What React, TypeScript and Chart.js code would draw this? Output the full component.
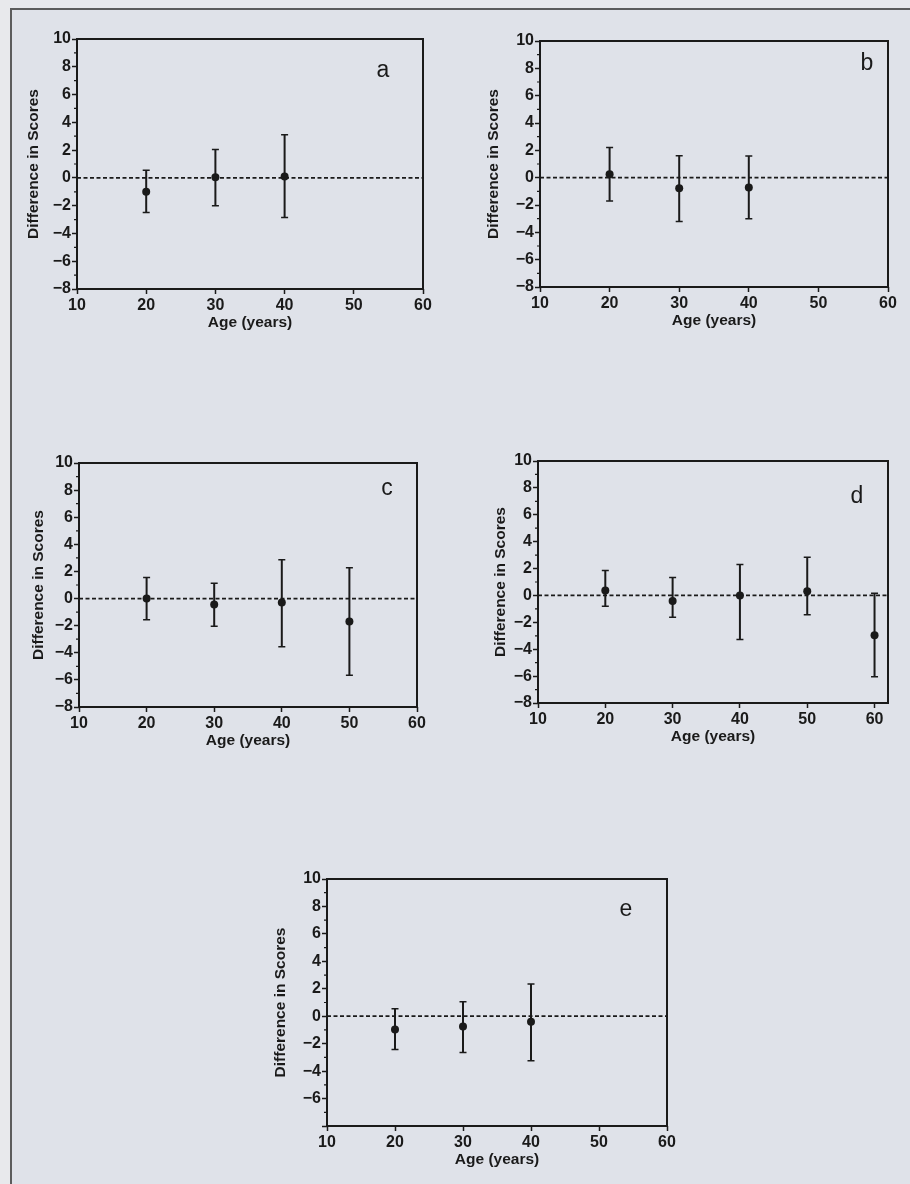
import React, { useEffect, useRef } from "react";
import { Chart, registerables } from "chart.js";

Chart.register(...registerables);
Chart.defaults.font.family = '"Liberation Sans", Arial, Helvetica, sans-serif';

// ---------- shared text ----------
const xAxisTitle = "Age (years)";
const yAxisTitle = "Difference in Scores";
const ageTickStep = 10;
const scoreTickStep = 2;

// ---------- panel a ----------
const aAges = [20, 30, 40];
const aMeans = [-1.0, 0.05, 0.1];
const aLower = [-2.5, -2.0, -2.85];
const aUpper = [0.55, 2.05, 3.1];

// ---------- panel b ----------
const bAges = [20, 30, 40];
const bMeans = [0.25, -0.78, -0.72];
const bLower = [-1.7, -3.2, -3.0];
const bUpper = [2.2, 1.6, 1.58];

// ---------- panel c ----------
const cAges = [20, 30, 40, 50];
const cMeans = [0.0, -0.44, -0.3, -1.7];
const cLower = [-1.57, -2.04, -3.56, -5.65];
const cUpper = [1.55, 1.13, 2.87, 2.28];

// ---------- panel d ----------
const dAges = [20, 30, 40, 50, 60];
const dMeans = [0.37, -0.42, 0.0, 0.32, -2.97];
const dLower = [-0.8, -1.63, -3.27, -1.44, -6.04];
const dUpper = [1.86, 1.34, 2.3, 2.85, 0.17];

// ---------- panel e ----------
const eAges = [20, 30, 40];
const eMeans = [-0.96, -0.74, -0.4];
const eLower = [-2.43, -2.65, -3.24];
const eUpper = [0.54, 1.06, 2.35];

const INK = "#1a1a1a";
const Y_W = 66;
const PAD_T = 12;
const PAD_R = 20;
const X_H = 46;

type Layout = {
  left: number;
  top: number;
  right: number;
  bottom: number;
  titleGap: number;
  letterX: number;
  letterBase: number;
  xMin: number;
  xMax: number;
  yMin: number;
  yMax: number;
  hideMinLabel: boolean;
};

type PanelProps = {
  ages: number[];
  means: number[];
  lower: number[];
  upper: number[];
  letter: string;
  layout: Layout;
};

function ErrorBarPanel({ ages, means, lower, upper, letter, layout }: PanelProps) {
  const ref = useRef<HTMLCanvasElement>(null);
  const plotW = layout.right - layout.left;
  const plotH = layout.bottom - layout.top;
  const cw = Y_W + plotW + PAD_R;
  const ch = PAD_T + plotH + X_H;
  const cl = layout.left - Y_W;
  const ct = layout.top - PAD_T;

  useEffect(() => {
    if (!ref.current) return;
    const plugin = {
      id: "errbars",
      beforeDatasetsDraw(chart: any) {
        const { ctx, chartArea: a, scales } = chart;
        const x = scales.x;
        const y = scales.y;
        ctx.save();
        const y0 = y.getPixelForValue(0);
        ctx.strokeStyle = INK;
        ctx.lineWidth = 1.8;
        ctx.setLineDash([4, 2.5]);
        ctx.beginPath();
        ctx.moveTo(a.left, y0);
        ctx.lineTo(a.right, y0);
        ctx.stroke();
        ctx.setLineDash([]);
        ages.forEach((age, i) => {
          const px = x.getPixelForValue(age);
          const pu = y.getPixelForValue(upper[i]);
          const pl = y.getPixelForValue(lower[i]);
          ctx.lineWidth = 2;
          ctx.beginPath();
          ctx.moveTo(px, pu);
          ctx.lineTo(px, pl);
          ctx.stroke();
          ctx.lineWidth = 1.5;
          ctx.beginPath();
          ctx.moveTo(px - 3.5, pu);
          ctx.lineTo(px + 3.5, pu);
          ctx.moveTo(px - 3.5, pl);
          ctx.lineTo(px + 3.5, pl);
          ctx.stroke();
        });
        ctx.restore();
      },
      afterDraw(chart: any) {
        const { ctx, chartArea: a, scales } = chart;
        const y = scales.y;
        ctx.save();
        ctx.strokeStyle = INK;
        ctx.lineWidth = 2;
        ctx.strokeRect(a.left, a.top, a.right - a.left, a.bottom - a.top);
        ctx.lineWidth = 1.2;
        ctx.beginPath();
        for (let v = layout.yMin + 1; v < layout.yMax; v += scoreTickStep) {
          const py = y.getPixelForValue(v);
          ctx.moveTo(a.left - 3, py);
          ctx.lineTo(a.left, py);
        }
        ctx.stroke();
        ctx.fillStyle = INK;
        ctx.font = '23px "Liberation Sans", Arial, sans-serif';
        ctx.textAlign = "center";
        ctx.textBaseline = "alphabetic";
        ctx.fillText(letter, layout.letterX - cl, layout.letterBase - ct);
        ctx.restore();
      },
    };

    const chart = new Chart(ref.current, {
      type: "scatter",
      data: {
        datasets: [
          {
            data: ages.map((a, i) => ({ x: a, y: means[i] })),
            pointRadius: 4,
            pointBackgroundColor: INK,
            pointBorderColor: INK,
            pointBorderWidth: 0,
          },
        ],
      },
      options: {
        responsive: false,
        animation: false,
        devicePixelRatio: 1,
        layout: { padding: { top: PAD_T, right: PAD_R, left: 0, bottom: 0 } },
        plugins: { legend: { display: false }, tooltip: { enabled: false } },
        scales: {
          x: {
            type: "linear",
            min: layout.xMin,
            max: layout.xMax,
            afterFit: (s: any) => {
              s.height = X_H;
            },
            ticks: {
              stepSize: ageTickStep,
              includeBounds: false,
              color: INK,
              font: { size: 16, weight: "bold" },
              padding: 2,
              maxRotation: 0,
              autoSkip: false,
            },
            grid: {
              display: true,
              drawOnChartArea: false,
              drawTicks: true,
              tickLength: 5,
              tickColor: INK,
              tickWidth: 1.5,
            },
            border: { display: false },
            title: {
              display: true,
              text: xAxisTitle,
              color: INK,
              font: { size: 15.5, weight: "bold" },
              padding: { top: 0, bottom: 3 },
            },
          },
          y: {
            type: "linear",
            min: layout.yMin,
            max: layout.yMax,
            afterFit: (s: any) => {
              s.width = Y_W;
            },
            ticks: {
              stepSize: scoreTickStep,
              color: INK,
              font: { size: 16, weight: "bold" },
              padding: 1,
              autoSkip: false,
              callback: (v: any) => {
                const n = Number(v);
                if (layout.hideMinLabel && n === layout.yMin) return "";
                return n < 0 ? "\u2212" + Math.abs(n) : String(n);
              },
            },
            grid: {
              display: true,
              drawOnChartArea: false,
              drawTicks: true,
              tickLength: 5,
              tickColor: INK,
              tickWidth: 1.5,
            },
            border: { display: false },
            title: {
              display: true,
              text: yAxisTitle,
              color: INK,
              font: { size: 15.5, weight: "bold" },
              padding: { top: Y_W - layout.titleGap - 9, bottom: 0 },
            },
          },
        },
      },
      plugins: [plugin],
    } as any);
    return () => chart.destroy();
  }, []);

  return (
    <canvas
      ref={ref}
      width={cw}
      height={ch}
      style={{ position: "absolute", left: cl, top: ct, width: cw, height: ch }}
    />
  );
}

const layoutA: Layout = { left: 77, top: 39, right: 423, bottom: 289, titleGap: 44, letterX: 383, letterBase: 77, xMin: 10, xMax: 60, yMin: -8, yMax: 10, hideMinLabel: false };
const layoutB: Layout = { left: 540, top: 41, right: 888, bottom: 287, titleGap: 47, letterX: 867, letterBase: 70, xMin: 10, xMax: 60, yMin: -8, yMax: 10, hideMinLabel: false };
const layoutC: Layout = { left: 79, top: 463, right: 417, bottom: 707, titleGap: 41, letterX: 387, letterBase: 495, xMin: 10, xMax: 60, yMin: -8, yMax: 10, hideMinLabel: false };
const layoutD: Layout = { left: 538, top: 461, right: 888, bottom: 703, titleGap: 38, letterX: 857, letterBase: 503, xMin: 10, xMax: 62, yMin: -8, yMax: 10, hideMinLabel: false };
const layoutE: Layout = { left: 327, top: 879, right: 667, bottom: 1126, titleGap: 47, letterX: 626, letterBase: 916, xMin: 10, xMax: 60, yMin: -8, yMax: 10, hideMinLabel: true };

export default function App() {
  return (
    <div
      style={{
        position: "absolute",
        left: 0,
        top: 0,
        width: 910,
        height: 1184,
        overflow: "hidden",
        background: "#e8e9ec",
      }}
    >
      <div
        style={{
          position: "absolute",
          left: 10,
          top: 8,
          width: 900,
          height: 1176,
          background: "#dfe2e9",
          borderLeft: "2px solid #5c5c5c",
          borderTop: "2px solid #5c5c5c",
          boxSizing: "border-box",
        }}
      />
      <ErrorBarPanel ages={aAges} means={aMeans} lower={aLower} upper={aUpper} letter="a" layout={layoutA} />
      <ErrorBarPanel ages={bAges} means={bMeans} lower={bLower} upper={bUpper} letter="b" layout={layoutB} />
      <ErrorBarPanel ages={cAges} means={cMeans} lower={cLower} upper={cUpper} letter="c" layout={layoutC} />
      <ErrorBarPanel ages={dAges} means={dMeans} lower={dLower} upper={dUpper} letter="d" layout={layoutD} />
      <ErrorBarPanel ages={eAges} means={eMeans} lower={eLower} upper={eUpper} letter="e" layout={layoutE} />
    </div>
  );
}
